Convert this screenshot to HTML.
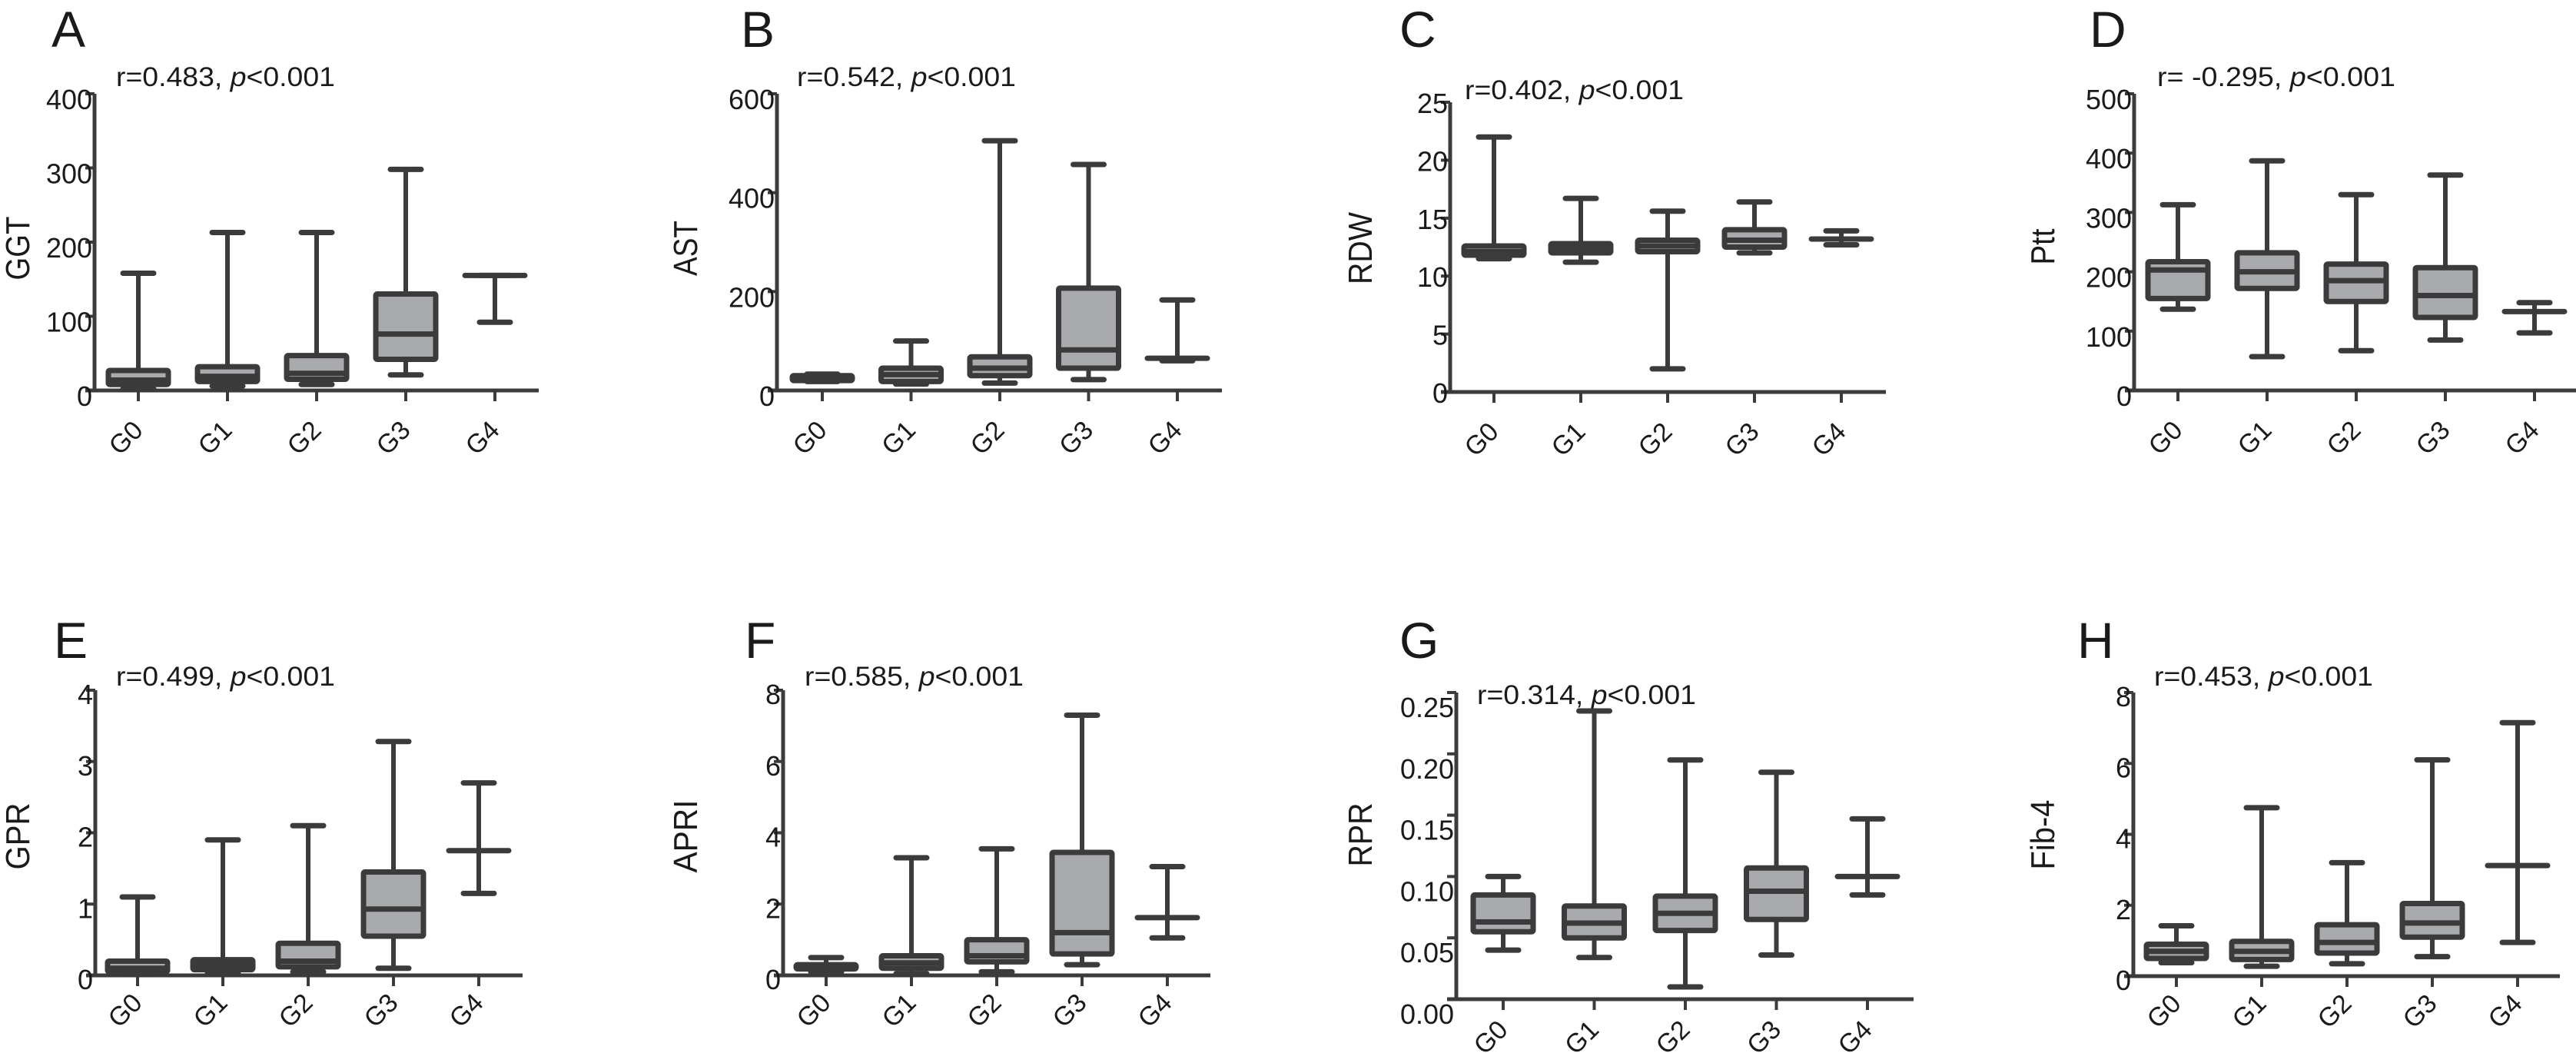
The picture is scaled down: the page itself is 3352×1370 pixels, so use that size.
<!DOCTYPE html>
<html><head><meta charset="utf-8"><style>
html,body{margin:0;padding:0;background:#fff;}
svg{display:block;font-family:"Liberation Sans",Arial,sans-serif;}
</style></head><body>
<svg id="fig" width="3352" height="1370" viewBox="0 0 3352 1370" xmlns="http://www.w3.org/2000/svg"></svg>
<script>
const categories = ["G0","G1","G2","G3","G4"];
// Panel A GGT
const ggtMin=[2,6,8,21,92], ggtQ1=[8,12,15,42,155], ggtMed=[14,19,23,76,155], ggtQ3=[27,32,47,130,155], ggtMax=[158,213,213,298,155];
// Panel B AST
const astMin=[18,13,15,22,60], astQ1=[20,18,30,45,65], astMed=[25,32,45,82,65], astQ3=[30,45,68,207,65], astMax=[33,100,505,457,183];
// Panel C RDW
const rdwMin=[11.5,11.2,2,12,12.7], rdwQ1=[11.8,12.0,12.1,12.5,13.2], rdwMed=[12.1,12.4,12.6,13.1,13.2], rdwQ3=[12.6,12.8,13.1,14,13.2], rdwMax=[22,16.7,15.6,16.4,13.9];
// Panel D Ptt
const pttMin=[137,57,67,85,97], pttQ1=[155,172,150,123,133], pttMed=[203,200,185,160,133], pttQ3=[217,232,213,207,133], pttMax=[313,387,330,363,148];
// Panel E GPR
const gprMin=[0.02,0.04,0.05,0.1,1.15], gprQ1=[0.05,0.08,0.12,0.55,1.75], gprMed=[0.1,0.15,0.2,0.93,1.75], gprQ3=[0.2,0.22,0.45,1.45,1.75], gprMax=[1.1,1.9,2.1,3.28,2.7];
// Panel F APRI
const apriMin=[0.1,0.05,0.1,0.3,1.05], apriQ1=[0.18,0.2,0.38,0.6,1.62], apriMed=[0.22,0.35,0.55,1.2,1.62], apriQ3=[0.3,0.55,1.0,3.45,1.62], apriMax=[0.5,3.3,3.55,7.3,3.05];
// Panel G RPR
const rprMin=[0.04,0.034,0.01,0.036,0.085], rprQ1=[0.055,0.05,0.056,0.065,0.1], rprMed=[0.063,0.062,0.07,0.088,0.1], rprQ3=[0.085,0.076,0.084,0.107,0.1], rprMax=[0.1,0.235,0.195,0.185,0.147];
// Panel H Fib-4
const fibMin=[0.38,0.28,0.35,0.55,0.95], fibQ1=[0.5,0.47,0.65,1.1,3.12], fibMed=[0.7,0.7,0.95,1.5,3.12], fibQ3=[0.9,0.98,1.45,2.05,3.12], fibMax=[1.42,4.75,3.2,6.1,7.15];
// tick labels
const ggtTicks=["0","100","200","300","400"];
const astTicks=["0","200","400","600"];
const rdwTicks=["0","5","10","15","20","25"];
const pttTicks=["0","100","200","300","400","500"];
const gprTicks=["0","1","2","3","4"];
const apriTicks=["0","2","4","6","8"];
const rprTicks=["0.00","0.05","0.10","0.15","0.20","0.25"];
const fibTicks=["0","2","4","6","8"];

const panels=[
 {id:"a",letter:"A",ylab:"GGT",ylen:83,annot:"r=0.483, ",alen:285,tk:ggtTicks,ymax:400,mn:ggtMin,q1:ggtQ1,md:ggtMed,q3:ggtQ3,mx:ggtMax,
  ax:123,c0:180,st:116,end:701,top:122,zero:508,lx:67,ly:61,nx:151,ny:112,yx:22,yy:323,tdy:20,xdy:62},
 {id:"b",letter:"B",ylab:"AST",ylen:72,annot:"r=0.542, ",alen:285,tk:astTicks,ymax:600,mn:astMin,q1:astQ1,md:astMed,q3:astQ3,mx:astMax,
  ax:1011,c0:1070,st:115.5,end:1590,top:122,zero:508,lx:964,ly:61,nx:1037,ny:112,yx:891,yy:323,tdy:20,xdy:62},
 {id:"c",letter:"C",ylab:"RDW",ylen:94,annot:"r=0.402, ",alen:285,tk:rdwTicks,ymax:25,mn:rdwMin,q1:rdwQ1,md:rdwMed,q3:rdwQ3,mx:rdwMax,
  ax:1887,c0:1944,st:113,end:2454,top:133,zero:510,lx:1821,ly:61,nx:1906,ny:129,yx:1769,yy:323,tdy:14,xdy:62},
 {id:"d",letter:"D",ylab:"Ptt",ylen:47,annot:"r= -0.295, ",alen:310,tk:pttTicks,ymax:500,mn:pttMin,q1:pttQ1,md:pttMed,q3:pttQ3,mx:pttMax,
  ax:2777,c0:2834,st:116,end:3352,top:122,zero:508,lx:2719,ly:61,nx:2807,ny:112,yx:2657,yy:321,tdy:20,xdy:62},
 {id:"e",letter:"E",ylab:"GPR",ylen:87,annot:"r=0.499, ",alen:285,tk:gprTicks,ymax:4,mn:gprMin,q1:gprQ1,md:gprMed,q3:gprQ3,mx:gprMax,
  ax:124,c0:179,st:111,end:680,top:898,zero:1269,lx:70,ly:856,nx:151,ny:892,yx:22,yy:1088,tdy:18,xdy:46},
 {id:"f",letter:"F",ylab:"APRI",ylen:95,annot:"r=0.585, ",alen:285,tk:apriTicks,ymax:8,mn:apriMin,q1:apriQ1,md:apriMed,q3:apriQ3,mx:apriMax,
  ax:1019,c0:1075,st:111,end:1575,top:898,zero:1269,lx:969,ly:856,nx:1047,ny:892,yx:891,yy:1088,tdy:18,xdy:46},
 {id:"g",letter:"G",ylab:"RPR",ylen:83,annot:"r=0.314, ",alen:285,tk:rprTicks,ymax:0.25,mn:rprMin,q1:rprQ1,md:rprMed,q3:rprQ3,mx:rprMax,
  ax:1895,c0:1956,st:118.5,end:2490,top:901,zero:1300,lx:1821,ly:856,nx:1922,ny:916,yx:1769,yy:1086,tdy:32,xdy:50},
 {id:"h",letter:"H",ylab:"Fib-4",ylen:91,annot:"r=0.453, ",alen:285,tk:fibTicks,ymax:8,mn:fibMin,q1:fibQ1,md:fibMed,q3:fibQ3,mx:fibMax,
  ax:2776,c0:2832,st:111,end:3331,top:901,zero:1270,lx:2703,ly:856,nx:2803,ny:892,yx:2657,yy:1086,tdy:18,xdy:46}
];

const NS="http://www.w3.org/2000/svg";
const svg=document.getElementById("fig");
const INK="#3b3b3b", FILL="#a9aaad";
function mk(tag,attrs,parent){const e=document.createElementNS(NS,tag);for(const k in attrs)e.setAttribute(k,attrs[k]);parent.appendChild(e);return e;}

panels.forEach(p=>{
  const g=mk("g",{},svg);
  
  
  const yS=v=>p.zero-(v/p.ymax)*(p.zero-p.top);
  const xS=i=>p.c0+i*p.st;

  const L=mk("text",{x:p.lx,y:p.ly,"font-size":66,fill:"#1a1a1a"},g);L.textContent=p.letter;
  
  

  const A=mk("text",{x:p.nx,y:p.ny,"font-size":35,fill:"#1a1a1a",textLength:p.alen,lengthAdjust:"spacingAndGlyphs"},g);
  A.textContent=p.annot;
  const it=mk("tspan",{"font-style":"italic"},A);it.textContent="p";
  const rest=mk("tspan",{},A);rest.textContent="<0.001";
  
  

  const Y=mk("text",{x:0,y:0,"font-size":44,fill:"#1a1a1a","text-anchor":"middle",textLength:p.ylen,lengthAdjust:"spacingAndGlyphs",transform:`translate(${p.yx+16},${p.yy}) rotate(-90)`},g);
  Y.textContent=p.ylab;
  
  

  const ya=mk("line",{x1:p.ax,y1:p.top,x2:p.ax,y2:p.zero+2,stroke:INK,"stroke-width":5},g);
  
  
  const xa=mk("line",{x1:p.ax-12,y1:p.zero,x2:p.end,y2:p.zero,stroke:INK,"stroke-width":5},g);
  
  

  p.tk.forEach((t,i)=>{
    const v=i*p.ymax/(p.tk.length-1);
    const y=yS(v);
    mk("line",{x1:p.ax-12,y1:y,x2:p.ax,y2:y,stroke:INK,"stroke-width":4},g);
    const tt=mk("text",{x:p.ax-3,y:y+p.tdy,"font-size":36,fill:"#1a1a1a","text-anchor":"end",textLength:t.length*20-(t.includes(".")?10:0),lengthAdjust:"spacingAndGlyphs"},g);
    tt.textContent=t;
    
    
  });

  categories.forEach((c,i)=>{
    const cx=xS(i);
    mk("line",{x1:cx,y1:p.zero,x2:cx,y2:p.zero+14,stroke:INK,"stroke-width":4},g);
    const xt=mk("text",{x:0,y:0,"font-size":34,fill:"#1a1a1a","text-anchor":"middle","dominant-baseline":"central",transform:`translate(${cx-16},${p.zero+p.xdy}) rotate(-45)`},g);
    xt.textContent=c;
    
    

    const bg=mk("g",{},g);
    
    
    const yMin=yS(p.mn[i]),yMax=yS(p.mx[i]),yQ1=yS(p.q1[i]),yQ3=yS(p.q3[i]),yMd=yS(p.md[i]);
    const cap=20, hw=39;
    mk("line",{x1:cx,y1:yMax,x2:cx,y2:yMin,stroke:INK,"stroke-width":6},bg);
    mk("line",{x1:cx-cap,y1:yMax,x2:cx+cap,y2:yMax,stroke:INK,"stroke-width":7,"stroke-linecap":"round"},bg);
    mk("line",{x1:cx-cap,y1:yMin,x2:cx+cap,y2:yMin,stroke:INK,"stroke-width":7,"stroke-linecap":"round"},bg);
    if(yQ1-yQ3>0.5){
      mk("rect",{x:cx-hw,y:yQ3,width:hw*2,height:yQ1-yQ3,fill:FILL,stroke:INK,"stroke-width":7,rx:2},bg);
      mk("line",{x1:cx-hw,y1:yMd,x2:cx+hw,y2:yMd,stroke:INK,"stroke-width":7},bg);
    } else {
      mk("line",{x1:cx-hw,y1:yMd,x2:cx+hw,y2:yMd,stroke:INK,"stroke-width":7,"stroke-linecap":"round"},bg);
    }
  });
});
</script>
</body></html>
